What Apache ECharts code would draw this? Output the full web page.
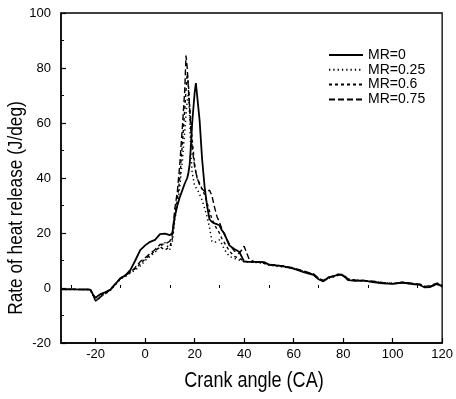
<!DOCTYPE html>
<html>
<head>
<meta charset="utf-8">
<script src="https://cdn.jsdelivr.net/npm/echarts@6/dist/echarts.min.js"></script>
<style>html,body{margin:0;padding:0;background:#fff;}#c{width:456px;height:399px;}</style>
</head>
<body>
<div id="c"></div>
<script>
var FONT = "'Liberation Sans', Arial, sans-serif";
var seriesNames = ['MR=0', 'MR=0.25', 'MR=0.6', 'MR=0.75'];
var xTitle = 'Crank angle (CA)';
var yTitle = 'Rate of heat release (J/deg)';
var xMajorTicks = [-20, 0, 20, 40, 60, 80, 100, 120];
var xMinorTicks = [-30, -10, 10, 30, 50, 70, 90, 110];
var angle = [-34,-30,-26,-23,-22,-21,-20,-19,-18,-16,-14,-12,-10,-8,-6,-4,-2,0,2,4,6,8,10,11,12,13,14,15,16,16.5,17,17.5,18,18.5,19,20,20.5,21,22,23,24,25,26,27,28,29,30,31,32,34,36,38,40,42,44,46,48,50,53,56,60,64,68,70,72,74,76,78,80,82,85,88,92,96,100,104,108,111,113,115,118,120];
var mr0 = [-0.5,-0.4,-0.6,-0.5,-0.7,-2.5,-3.6,-2.8,-2.2,-1.5,-0.6,1.5,3.5,4.6,6.5,10,13.8,15.5,16.8,17.5,19.6,19.8,19.2,20,26,30,33,35.5,38,39,40,42,45,52,60,71,74.5,70,61,47,37,30,25,24,23.5,23.2,22.8,21,19.8,15.5,14.2,13.2,9.6,9.5,9.5,9.5,9.4,8.5,8.2,7.9,7,5.8,4.8,3.2,2.4,3.8,4.2,4.9,4.6,2.9,2.6,2.8,2.1,1.7,1.5,2,1.4,1.1,0.2,0.3,1.6,0.6];
var mr025 = [-0.5,-0.5,-0.5,-0.6,-1,-3,-5,-4,-3,-2,-0.8,1.2,3.2,4.2,5.5,6.5,8,10,11.5,13,15,16.5,14,17,25,30,37,46,57,63,68,71,62,48,42,37,36.5,36,34,32,29,26,22,17,16.5,17,17.5,16,14,11.5,10.8,10.2,9.5,9.4,9.3,9.2,9,8.3,8,7.6,7.2,6,5,3.5,2.6,3.5,4,4.6,4.8,3.2,2.8,2.5,2.4,1.9,1.7,1.8,1.6,1.2,0.5,0.5,1.2,0.8];
var mr06 = [-0.5,-0.5,-0.5,-0.5,-0.9,-2.8,-4.5,-3.8,-2.8,-1.8,-0.5,1.4,3.4,4.4,5.8,7,8.8,10.5,12,13.5,15,13.8,15,18,27,32,40,52,65,72,78,74,66,60,54,45,42,40,38,36,34,31,28,25,23,21.5,20,18,16.5,13.5,11.5,10.8,9.8,9.5,9.4,9.3,9,8.4,8.1,7.8,7.1,6.2,4.8,3.4,2.5,3.6,4.3,4.7,4.4,3,2.7,2.6,2.3,1.8,1.6,1.9,1.5,1.3,0.4,0.6,1.4,0.4];
var mr075 = [-0.5,-0.5,-0.5,-0.5,-0.8,-2.5,-4.8,-4.2,-3.2,-2,-0.4,1.6,3.6,4.6,5.6,7.5,9.6,11,12.5,14,15.8,16,17,19.5,29,35,45,58,72,84.5,80,72,65,57,51,44,42,40,37.5,36,35.2,35,35.6,33.5,29.5,26,24,21.5,19.5,16,13.5,12.5,15.2,10.5,9.6,9.5,9.2,8.6,8.3,8,7.3,6.1,5.2,3.6,2.8,3.9,4.4,5,4.9,3.3,2.9,2.7,2.5,2,1.6,2.1,1.7,1.4,0.6,0.8,1.8,1];

function pairs(ys) { return angle.map(function (a, i) { return [a, ys[i]]; }); }

var chart = echarts.init(document.getElementById('c'), null, {renderer: 'canvas'});
function mkSeries(name, ys, type, width) {
  return {
    name: name, type: 'line', data: pairs(ys), showSymbol: false, symbol: 'none',
    xAxisIndex: 0, yAxisIndex: 0, animation: false,
    lineStyle: {color: '#000', width: width, type: type}, itemStyle: {color: '#000'}
  };
}
chart.setOption({
  backgroundColor: '#fff',
  animation: false,
  grid: {left: 61, right: 10, top: 13, bottom: 56, show: true, borderColor: '#000', borderWidth: 1.3, backgroundColor: 'transparent'},
  legend: {
    data: seriesNames, orient: 'vertical', left: 328, top: 48, itemWidth: 34, itemHeight: 10, itemGap: 0.8,
    padding: 0, itemStyle: {opacity: 0},
    textStyle: {color: '#000', fontFamily: FONT, fontSize: 14, lineHeight: 11, padding: 0}
  },
  xAxis: [{
    type: 'value', min: -34, max: 120, position: 'bottom',
    axisLine: {show: true, onZero: false, lineStyle: {color: '#000', width: 1.5}},
    axisTick: {show: true, inside: true, length: 5, customValues: xMajorTicks, lineStyle: {color: '#000', width: 1.2}},
    axisLabel: {customValues: xMajorTicks, color: '#000', fontFamily: FONT, fontSize: 13, margin: 5},
    splitLine: {show: false}
  }, {
    type: 'value', min: -34, max: 120, position: 'bottom',
    axisLine: {show: false},
    axisTick: {show: true, inside: true, length: 3, customValues: xMinorTicks, lineStyle: {color: '#000', width: 1}},
    axisLabel: {show: false}, splitLine: {show: false}
  }],
  yAxis: {
    type: 'value', min: -20, max: 100, interval: 20,
    axisLine: {show: true, onZero: false, lineStyle: {color: '#000', width: 1.5}},
    axisTick: {show: true, inside: true, length: 5, lineStyle: {color: '#000', width: 1.2}},
    minorTick: {show: true, splitNumber: 2, length: 3, lineStyle: {color: '#000', width: 1}},
    axisLabel: {color: '#000', fontFamily: FONT, fontSize: 13, margin: 10},
    splitLine: {show: false}
  },
  graphic: [{
    type: 'text', x: 254, y: 381, scaleX: 0.82,
    style: {text: xTitle, fill: '#000', fontFamily: FONT, fontSize: 22, align: 'center', verticalAlign: 'middle'}
  }, {
    type: 'text', x: 16, y: 208, rotation: Math.PI / 2, scaleX: 0.82,
    style: {text: yTitle, fill: '#000', fontFamily: FONT, fontSize: 21, align: 'center', verticalAlign: 'middle'}
  }],
  series: [
    mkSeries(seriesNames[0], mr0, 'solid', 1.8),
    mkSeries(seriesNames[1], mr025, [1.3, 3], 1.5),
    mkSeries(seriesNames[2], mr06, [3, 3], 1.4),
    mkSeries(seriesNames[3], mr075, [6, 3], 1.4)
  ]
});
</script>
</body>
</html>
